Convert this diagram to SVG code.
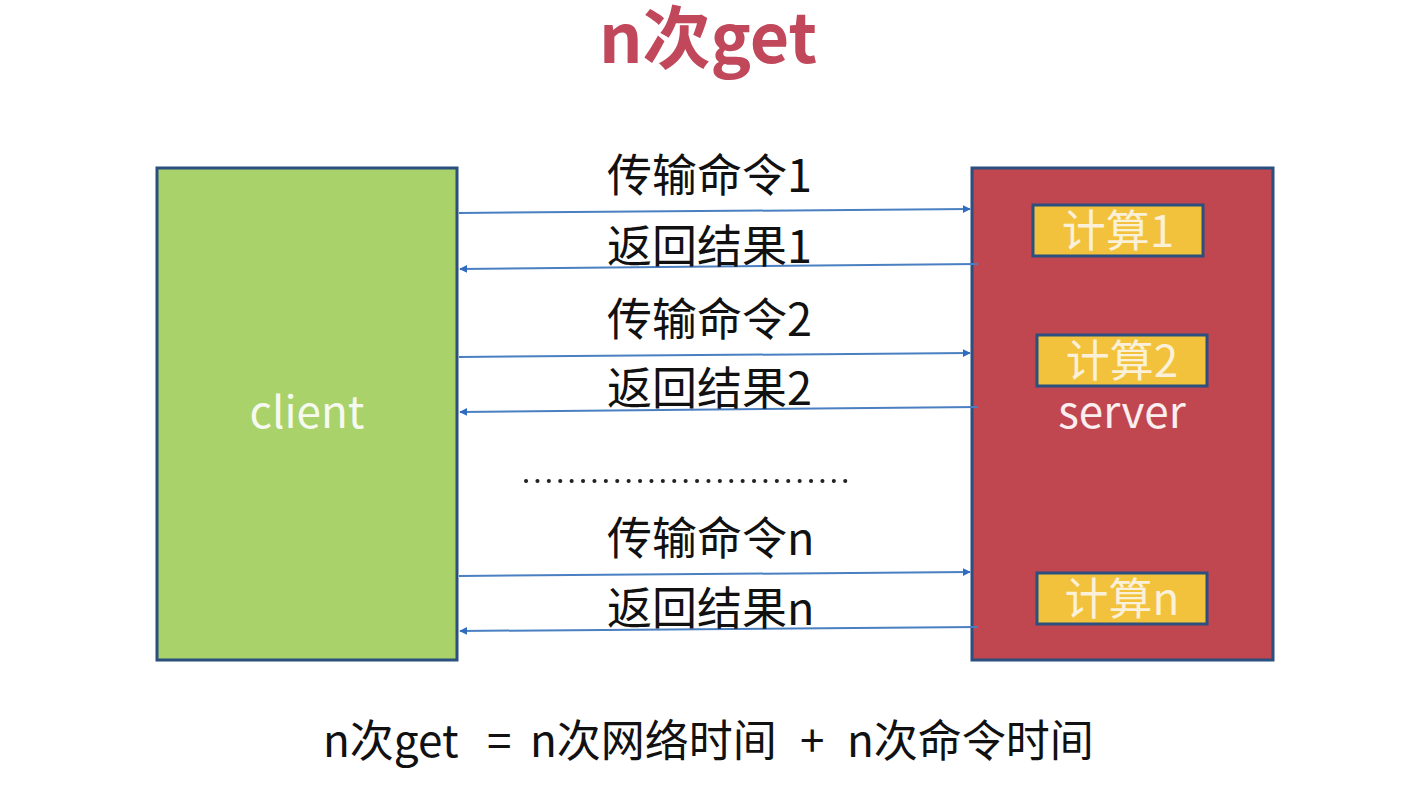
<svg xmlns="http://www.w3.org/2000/svg" width="1410" height="788" viewBox="0 0 1410 788">
<style>
.t{font-family:"Noto Sans CJK SC","Noto Sans",sans-serif;}
.lbl{font-size:45px;fill:#111;}
.calc{font-size:44px;fill:#fbf0d8;text-anchor:middle;}
.box{stroke:#2b4f7e;stroke-width:3;}
.ybox{fill:#f2c23c;stroke:#2b4f7e;stroke-width:3;}
.arr{stroke:#4a7fc1;stroke-width:2;fill:none;}
</style>
<defs>
<marker id="ah" viewBox="0 0 10 10" refX="9" refY="5" markerWidth="8" markerHeight="8" markerUnits="userSpaceOnUse" orient="auto">
<path d="M0,0 L10,5 L0,10 z" fill="#2f6cc0"/>
</marker>
</defs>
<rect width="1410" height="788" fill="#ffffff"/>
<text class="t" x="708" y="63" font-size="68" font-weight="bold" fill="#c1485a" text-anchor="middle">n次get</text>
<g id="client">
<rect class="box" x="157" y="168" width="300" height="492" fill="#a9d26a"/>
<text class="t" x="307" y="428" font-size="44" fill="#f5f9ef" text-anchor="middle">client</text>
</g>
<g id="server">
<rect class="box" x="972" y="168" width="301" height="492" fill="#c0474f"/>
<text class="t" x="1122" y="428" font-size="44" fill="#fbeef0" text-anchor="middle">server</text>
</g>
<g id="calc1">
<rect class="ybox" x="1033" y="205" width="170" height="51"/>
<text class="t calc" x="1118" y="247">计算1</text>
</g>
<g id="calc2">
<rect class="ybox" x="1037" y="335" width="170" height="51"/>
<text class="t calc" x="1122" y="377">计算2</text>
</g>
<g id="calcn">
<rect class="ybox" x="1037" y="573" width="170" height="51"/>
<text class="t calc" x="1122" y="615">计算n</text>
</g>
<g id="connectors">
<line class="arr" x1="459" y1="213" x2="970" y2="209" marker-end="url(#ah)"/>
<line class="arr" x1="978" y1="264" x2="460" y2="269" marker-end="url(#ah)"/>
<line class="arr" x1="459" y1="357" x2="970" y2="353" marker-end="url(#ah)"/>
<line class="arr" x1="978" y1="407" x2="460" y2="412" marker-end="url(#ah)"/>
<line class="arr" x1="459" y1="576" x2="970" y2="572" marker-end="url(#ah)"/>
<line class="arr" x1="978" y1="627" x2="460" y2="631" marker-end="url(#ah)"/>
</g>
<g id="labels">
<text class="t lbl" x="607" y="192">传输命令1</text>
<text class="t lbl" x="607" y="263">返回结果1</text>
<text class="t lbl" x="607" y="336">传输命令2</text>
<text class="t lbl" x="607" y="405">返回结果2</text>
<text class="t lbl" x="607" y="555">传输命令n</text>
<text class="t lbl" x="607" y="625">返回结果n</text>
</g>
<line x1="526" y1="481" x2="854" y2="481" stroke="#222" stroke-width="4" stroke-dasharray="0.1 11.3" stroke-linecap="round"/>
<text class="t" y="757" font-size="44" fill="#111"><tspan x="323">n次get</tspan><tspan x="487">=</tspan><tspan x="530">n次网络时间</tspan><tspan x="800">+</tspan><tspan x="847">n次命令时间</tspan></text>
</svg>
